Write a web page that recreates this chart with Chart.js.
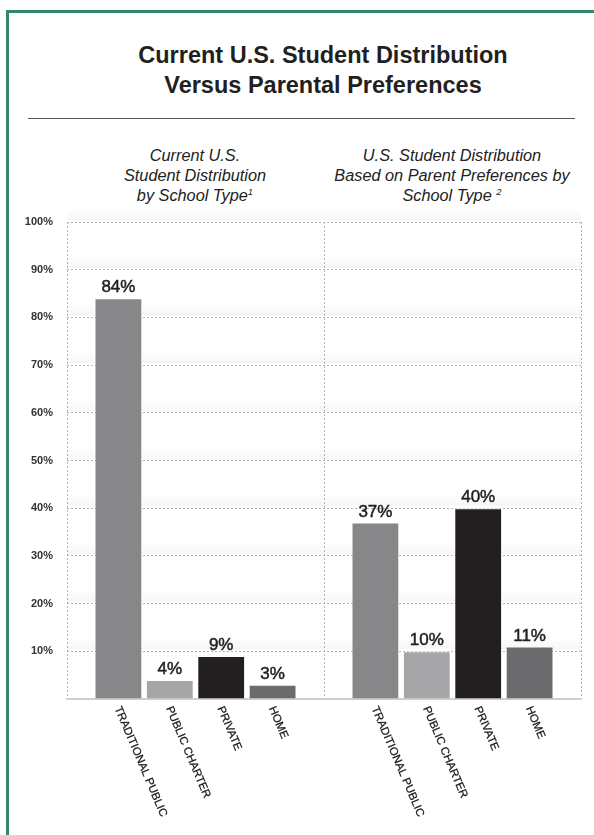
<!DOCTYPE html>
<html>
<head>
<meta charset="utf-8">
<script src="https://cdn.jsdelivr.net/npm/chart.js@4.4.0/dist/chart.umd.min.js"></script>
<style>
html, body { margin: 0; padding: 0; background: #fff; }
body { width: 594px; height: 835px; position: relative; overflow: hidden; font-family: "Liberation Sans", Arial, sans-serif; color: #231f20; }
#chart { position: absolute; left: 0; top: 0; }
#frame { position: absolute; left: 6px; top: 10px; width: 700px; height: 900px; border: 3px solid #35876a; }
#title { position: absolute; left: 48px; width: 550px; top: 40px; text-align: center; font-weight: bold; font-size: 23.5px; line-height: 30px; }
#rule { position: absolute; left: 28px; width: 547px; top: 118px; border-top: 1px solid #555; }
.sub { position: absolute; top: 145px; width: 290px; text-align: center; font-style: italic; font-size: 16.3px; line-height: 20px; color: #222; }
.sub sup { font-size: 9.5px; vertical-align: 6px; line-height: 0; }
</style>
</head>
<body>
<div id="frame"></div>
<div id="title">Current U.S. Student Distribution<br>Versus Parental Preferences</div>
<div id="rule"></div>
<div class="sub" style="left:50px">Current U.S.<br>Student Distribution<br>by School Type<sup>1</sup></div>
<div class="sub" style="left:307px">U.S. Student Distribution<br>Based on Parent Preferences by<br>School Type <sup>2</sup></div>
<canvas id="chart" width="594" height="835"></canvas>
<script>
// data
const categories = ['TRADITIONAL PUBLIC', 'PUBLIC CHARTER', 'PRIVATE', 'HOME'];
const currentShare = [84, 4, 9, 3];      // current distribution, %
const preferredShare = [37, 10, 40, 11]; // based on parent preferences, %
const barColors = ['#87878a', '#a6a6a9', '#231f20', '#6b6b6d'];
const yTickLabels = ['', '10%', '20%', '30%', '40%', '50%', '60%', '70%', '80%', '90%', '100%'];

// one axis for both panels, blank slots at the edges and the divider
const labels = [''].concat(categories, [''], categories, ['']);
const values = [null].concat(currentShare, [null], preferredShare, [null]);
const colors = ['#0000'].concat(barColors, ['#0000'], barColors, ['#0000']);

const gridColor = '#b3b3b3';

// faint shading just above each grid line
const gridShade = {
    id: 'gridShade',
    beforeDatasetsDraw(chart) {
        const ctx = chart.ctx;
        const area = chart.chartArea;
        const y = chart.scales.y;
        ctx.save();
        y.ticks.forEach(t => {
            if (t.value === 0) return;
            const py = y.getPixelForValue(t.value);
            const g = ctx.createLinearGradient(0, py - 14, 0, py - 2);
            g.addColorStop(0, 'rgba(0,0,0,0)');
            g.addColorStop(1, 'rgba(0,0,0,0.035)');
            ctx.fillStyle = g;
            ctx.fillRect(area.left, py - 14, area.right - area.left, 12);
        });
        ctx.restore();
    }
};

const valueLabels = {
    id: 'valueLabels',
    afterDatasetsDraw(chart) {
        const ctx = chart.ctx;
        const meta = chart.getDatasetMeta(0);
        ctx.save();
        ctx.font = '17px "Liberation Sans", Arial, sans-serif';
        ctx.fillStyle = '#231f20';
        ctx.strokeStyle = '#231f20';
        ctx.lineWidth = 0.5;
        ctx.textAlign = 'center';
        ctx.textBaseline = 'alphabetic';
        meta.data.forEach((bar, i) => {
            const v = values[i];
            if (v === null) return;
            ctx.fillText(v + '%', bar.x, bar.y - 6);
            ctx.strokeText(v + '%', bar.x, bar.y - 6);
        });
        ctx.restore();
    }
};

const slantedLabels = {
    id: 'slantedLabels',
    afterDraw(chart) {
        const ctx = chart.ctx;
        const xScale = chart.scales.x;
        ctx.save();
        ctx.font = '11.3px "Liberation Sans", Arial, sans-serif';
        ctx.fillStyle = '#1a1a1a';
        ctx.strokeStyle = '#1a1a1a';
        ctx.lineWidth = 0.25;
        ctx.textAlign = 'left';
        ctx.textBaseline = 'middle';
        labels.forEach((lab, i) => {
            if (!lab) return;
            const x = xScale.getPixelForValue(i);
            ctx.save();
            ctx.translate(x - 1, xScale.top + 8);
            ctx.rotate(67 * Math.PI / 180);
            ctx.fillText(lab, 0, 0);
            ctx.strokeText(lab, 0, 0);
            ctx.restore();
        });
        ctx.restore();
    }
};

new Chart(document.getElementById('chart'), {
    type: 'bar',
    data: {
        labels: labels,
        datasets: [{
            data: values,
            backgroundColor: colors,
            borderColor: 'rgba(255,255,255,0.35)',
            borderWidth: 1,
            barPercentage: 0.93,
            categoryPercentage: 1
        }]
    },
    options: {
        responsive: false,
        devicePixelRatio: 1,
        animation: false,
        layout: { padding: { top: 222, right: 13, left: 0, bottom: 116 } },
        plugins: { legend: { display: false }, tooltip: { enabled: false } },
        scales: {
            x: {
                offset: false,
                afterFit: s => { s.height = 20; },
                ticks: { display: false },
                grid: {
                    offset: false,
                    drawTicks: false,
                    color: c => (c.index === 0 || c.index === 5 || c.index === 10) ? gridColor : 'rgba(0,0,0,0)'
                },
                border: { display: true, color: '#cfcfcf', width: 2, dash: [2, 2] }
            },
            y: {
                min: 0,
                max: 100,
                afterFit: s => { s.width = 67; },
                ticks: {
                    stepSize: 10,
                    padding: 14,
                    color: '#333',
                    font: { family: '"Liberation Sans", Arial, sans-serif', size: 11, weight: 'bold' },
                    callback: (v, i) => yTickLabels[i]
                },
                grid: {
                    drawTicks: false,
                    color: c => c.tick && c.tick.value === 0 ? 'rgba(0,0,0,0)' : gridColor
                },
                border: { display: false, dash: [2, 2] }
            }
        }
    },
    plugins: [gridShade, valueLabels, slantedLabels]
});
</script>
</body>
</html>
